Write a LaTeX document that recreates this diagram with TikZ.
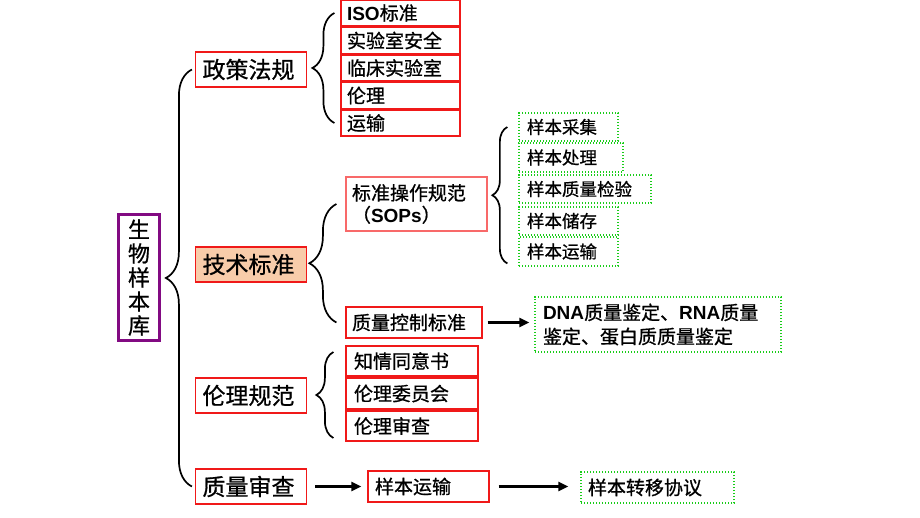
\documentclass[tikz,border=0pt]{standalone}
\usepackage{fontspec}
\setmainfont{Noto Sans CJK SC}[FakeBold=0.8]
\newfontfamily\arial{Liberation Sans}
\usepackage{tikz}
\usetikzlibrary{arrows.meta}
\usetikzlibrary{decorations.pathreplacing}
\definecolor{boxred}{RGB}{240,25,25}
\definecolor{softred}{RGB}{248,105,105}
\definecolor{peach}{RGB}{248,204,170}
\definecolor{dotgreen}{RGB}{25,205,25}
\definecolor{rootpurple}{RGB}{130,10,130}
\tikzstyle{root} = [rectangle, draw=rootpurple, line width=3.5pt,
    minimum width=41pt, minimum height=126pt, inner sep=0pt, align=center,
    font=\fontsize{22}{24}\selectfont]
\tikzstyle{level} = [rectangle, draw=boxred, line width=1.2pt, minimum height=35pt,
    text width=97pt, inner xsep=7pt, inner ysep=0pt, align=left,
    font=\fontsize{23}{26}\selectfont]
\tikzstyle{item} = [rectangle, draw=boxred, line width=1.2pt, inner xsep=6pt,
    inner ysep=0pt, align=left, font=\fontsize{19}{22}\selectfont]
\tikzstyle{leaf} = [rectangle, draw=dotgreen, line width=1.3pt,
    dash pattern=on 1.3pt off 1.7pt, inner xsep=8pt, inner ysep=0pt, align=left,
    font=\fontsize{17.5}{20}\selectfont]
\tikzstyle{arrowline} = [draw, line width=2.3pt, -{Triangle[length=10pt,width=9pt]}]
\tikzset{bracket/.style={draw, line width=1.7pt, decorate, decoration={brace, amplitude=#1}}}

\begin{document}
\begin{tikzpicture}[x=1pt, y=-1pt]
    \useasboundingbox (0,0) rectangle (920,518);
    % Place nodes
    \node [root] (bank) at (139,277.5) {生\\物\\样\\本\\库};
    \node [level] (policy) at (251,69.5) {政策法规};
    \node [level, fill=peach] (tech) at (251,264.5) {技术标准};
    \node [level] (ethic) at (251,395.5) {伦理规范};
    \node [level] (audit) at (251,486.5) {质量审查};
    % policy items
    \node [item, text width=107pt, minimum height=26pt] (iso) at (400.5,13) {{\arial\bfseries ISO}标准};
    \node [item, text width=107pt, minimum height=26pt] (labsafe) at (400.5,40.5) {实验室安全};
    \node [item, text width=107pt, minimum height=26pt] (clinic) at (400.5,68) {临床实验室};
    \node [item, text width=107pt, minimum height=26pt] (ethics) at (400.5,95.5) {伦理};
    \node [item, text width=107pt, minimum height=26pt] (transit) at (400.5,123) {运输};
    % technical items
    \node [item, draw=softred, text width=129pt, minimum height=54pt] (sops) at (416.5,204) {标准操作规范\\（{\arial\bfseries SOPs}）};
    \node [item, text width=124pt, minimum height=31pt] (qc) at (414,322.5) {质量控制标准};
    \node [leaf, text width=83pt, minimum height=28pt] (collect) at (568.5,127) {样本采集};
    \node [leaf, text width=88pt, minimum height=29pt] (process) at (571,157.5) {样本处理};
    \node [leaf, text width=116pt, minimum height=28pt] (inspect) at (585,189) {样本质量检验};
    \node [leaf, text width=83pt, minimum height=28pt] (store) at (568.5,221) {样本储存};
    \node [leaf, text width=83pt, minimum height=29pt] (ship) at (568.5,251.5) {样本运输};
    \node [leaf, font=\fontsize{19}{24}\selectfont, text width=230pt, minimum height=55pt] (dna) at (658,324.5)
        {{\arial\bfseries DNA}质量鉴定、{\arial\bfseries RNA}质量\\鉴定、蛋白质质量鉴定};
    % ethics items
    \node [item, inner xsep=8pt, text width=116pt, minimum height=30pt] (consent) at (412,361) {知情同意书};
    \node [item, inner xsep=8pt, text width=116pt, minimum height=31pt] (committee) at (412,393.5) {伦理委员会};
    \node [item, inner xsep=8pt, text width=116pt, minimum height=30pt] (review) at (412,426) {伦理审查};
    % audit chain
    \node [item, inner xsep=7pt, text width=107pt, minimum height=31pt] (transport) at (428.5,486.5) {样本运输};
    \node [leaf, font=\fontsize{19}{22}\selectfont, inner xsep=7pt, text width=139pt, minimum height=31pt] (transfer) at (657.5,487.5) {样本转移协议};
    % Draw edges
    \draw [bracket=26] ([xshift=-3pt]audit.west) -- ([xshift=-3pt]policy.west);
    \draw [bracket=22] ([xshift=-6pt]transit.west) -- ([xshift=-6pt]iso.west);
    \draw [bracket=27] ([xshift=-9pt]qc.west) -- ([xshift=-9pt]sops.west);
    \draw [bracket=15] ([xshift=-11pt,yshift=-12pt]ship.west) -- ([xshift=-11pt]collect.west);
    \draw [bracket=17] ([xshift=-12pt,yshift=-12pt]review.west) -- ([xshift=-12pt,yshift=9pt]consent.west);
    \draw [arrowline, shorten <=5pt, shorten >=5pt] (qc.east) -- (qc.east -| dna.west);
    \draw [arrowline, shorten <=8pt, shorten >=6pt] (audit.east) -- (audit.east -| transport.west);
    \draw [arrowline, shorten <=9pt, shorten >=12pt] (transport.east) -- (transport.east -| transfer.west);
\end{tikzpicture}
\end{document}
